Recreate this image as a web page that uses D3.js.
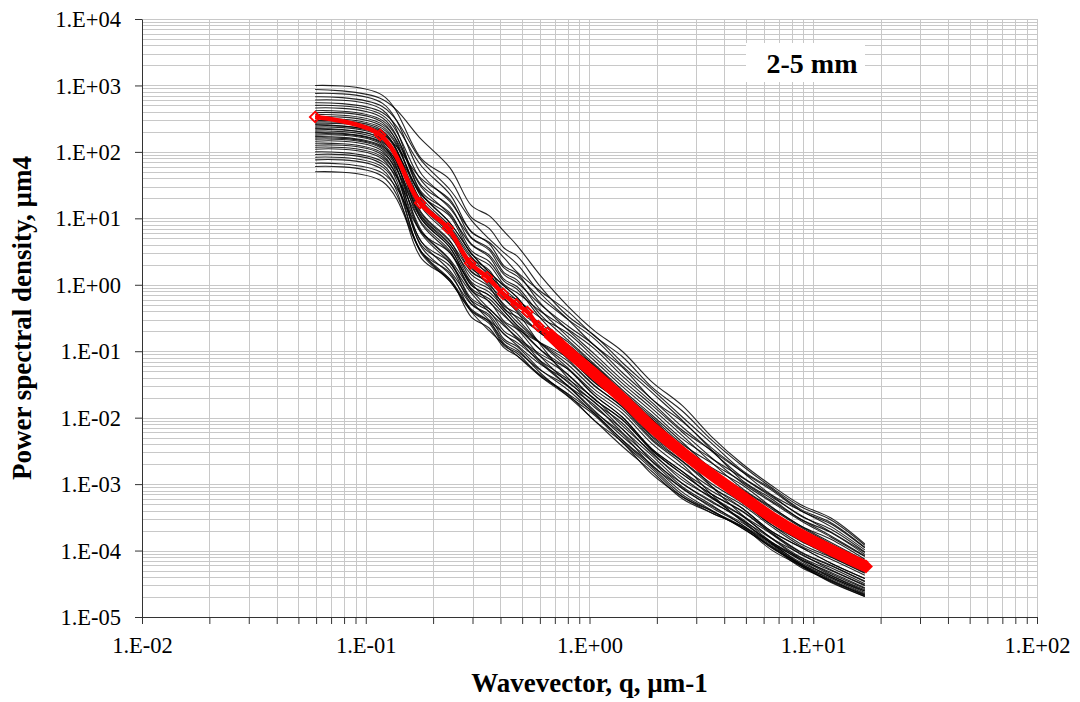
<!DOCTYPE html>
<html lang="en">
<head>
<meta charset="UTF-8">
<title>Power spectral density 2-5 mm</title>
<script src="https://d3js.org/d3.v7.min.js"></script>
<style>
    body { margin: 0; background: #fff; }
    svg { display: block; }
</style>
</head>
<body>
<div id="chart"></div>
<script>
    // axis ticks
    var xTickValues = [1e-2, 1e-1, 1e0, 1e1, 1e2];
    var xTickLabels = ["1.E-02", "1.E-01", "1.E+00", "1.E+01", "1.E+02"];
    var yTickValues = [1e-5, 1e-4, 1e-3, 1e-2, 1e-1, 1e0, 1e1, 1e2, 1e3, 1e4];
    var yTickLabels = ["1.E-05", "1.E-04", "1.E-03", "1.E-02", "1.E-01", "1.E+00", "1.E+01", "1.E+02", "1.E+03", "1.E+04"];

    var xTitle = "Wavevector, q, \u00b5m-1";
    var yTitle = "Power spectral density, \u00b5m4";
    var label = "2-5 mm";

    // wavevector of the single profile samples, um-1
    var q = [0.0594, 0.119, 0.178, 0.238, 0.297, 0.356, 0.416, 0.475, 0.60, 0.80,
             1.05, 1.4, 1.9, 2.6, 3.5, 4.8, 6.5, 8.8, 12, 17];

    // log10 of the PSD (um4) of every single profile, one row per profile
    var profiles = [
        [3.00, 2.85, 1.89, 1.58, 1.01, 0.85, 0.55, 0.43, -0.02, -0.47, -0.76, -1.17, -1.57, -1.99, -2.38, -2.79, -3.07, -3.38, -3.58, -3.95],
        [2.94, 2.79, 2.18, 1.76, 1.19, 1.04, 0.80, 0.59, 0.15, -0.32, -0.69, -1.00, -1.46, -1.82, -2.28, -2.69, -3.02, -3.31, -3.51, -3.90],
        [2.88, 2.73, 1.66, 1.25, 0.80, 0.62, 0.28, 0.17, -0.27, -0.68, -1.04, -1.43, -1.81, -2.22, -2.60, -2.98, -3.27, -3.55, -3.80, -4.09],
        [2.83, 2.68, 1.86, 1.43, 0.97, 0.69, 0.48, 0.31, -0.12, -0.52, -0.91, -1.24, -1.72, -2.06, -2.45, -2.81, -3.16, -3.40, -3.64, -3.99],
        [2.78, 2.63, 1.39, 1.08, 0.51, 0.35, 0.05, -0.07, -0.49, -0.92, -1.21, -1.62, -2.02, -2.44, -2.78, -3.14, -3.42, -3.73, -3.93, -4.20],
        [2.74, 2.59, 1.78, 1.36, 0.79, 0.64, 0.40, 0.19, -0.09, -0.40, -0.77, -1.08, -1.54, -1.90, -2.33, -2.72, -3.05, -3.34, -3.54, -3.92],
        [2.70, 2.55, 1.56, 1.15, 0.70, 0.52, 0.18, 0.07, -0.37, -0.78, -1.14, -1.53, -1.91, -2.32, -2.61, -2.90, -3.19, -3.47, -3.72, -4.03],
        [2.66, 2.51, 1.36, 0.93, 0.47, 0.19, -0.02, -0.19, -0.62, -1.02, -1.41, -1.74, -2.22, -2.56, -2.93, -3.26, -3.61, -3.85, -4.09, -4.33],
        [2.62, 2.47, 1.49, 1.18, 0.61, 0.45, 0.15, 0.03, -0.29, -0.62, -0.91, -1.32, -1.72, -2.14, -2.50, -2.89, -3.17, -3.48, -3.68, -4.02],
        [2.59, 2.44, 1.23, 0.81, 0.24, 0.09, -0.15, -0.36, -0.64, -0.95, -1.32, -1.63, -2.09, -2.45, -2.75, -3.01, -3.34, -3.63, -3.83, -4.13],
        [2.56, 2.41, 1.46, 1.05, 0.60, 0.42, 0.08, -0.03, -0.44, -0.83, -1.19, -1.58, -1.96, -2.37, -2.78, -3.18, -3.47, -3.75, -4.00, -4.23],
        [2.53, 2.38, 1.31, 0.88, 0.42, 0.14, -0.07, -0.24, -0.69, -1.12, -1.51, -1.84, -2.32, -2.66, -3.03, -3.36, -3.71, -3.95, -4.19, -4.42],
        [2.50, 2.35, 1.34, 1.03, 0.46, 0.30, 0.00, -0.12, -0.39, -0.67, -0.96, -1.37, -1.77, -2.19, -2.49, -2.81, -3.09, -3.40, -3.60, -3.96],
        [2.47, 2.32, 1.08, 0.66, 0.09, -0.06, -0.30, -0.51, -0.87, -1.25, -1.62, -1.93, -2.39, -2.75, -3.05, -3.31, -3.64, -3.93, -4.13, -4.37],
        [2.45, 2.30, 1.21, 0.80, 0.35, 0.17, -0.17, -0.28, -0.58, -0.86, -1.22, -1.61, -1.99, -2.40, -2.68, -2.96, -3.25, -3.53, -3.78, -4.08],
        [2.43, 2.28, 1.16, 0.73, 0.27, -0.01, -0.22, -0.39, -0.72, -1.02, -1.41, -1.74, -2.22, -2.56, -3.03, -3.46, -3.81, -4.05, -4.29, -4.52],
        [2.41, 2.26, 1.59, 1.28, 0.71, 0.55, 0.25, 0.13, -0.19, -0.52, -0.81, -1.22, -1.62, -2.04, -2.48, -2.94, -3.22, -3.53, -3.73, -4.06],
        [2.39, 2.24, 0.98, 0.56, -0.01, -0.16, -0.40, -0.61, -0.97, -1.35, -1.72, -2.03, -2.49, -2.85, -3.15, -3.41, -3.74, -4.03, -4.23, -4.47],
        [2.37, 2.22, 1.06, 0.65, 0.20, 0.02, -0.32, -0.43, -0.72, -0.98, -1.34, -1.73, -2.11, -2.52, -2.80, -3.08, -3.37, -3.65, -3.90, -4.16],
        [2.35, 2.20, 1.36, 0.93, 0.47, 0.19, -0.02, -0.19, -0.64, -1.07, -1.46, -1.79, -2.27, -2.61, -2.93, -3.21, -3.56, -3.80, -4.04, -4.28],
        [2.33, 2.18, 0.79, 0.48, -0.09, -0.25, -0.55, -0.67, -1.07, -1.47, -1.76, -2.17, -2.57, -2.99, -3.25, -3.54, -3.82, -4.13, -4.33, -4.56],
        [2.31, 2.16, 1.03, 0.61, 0.04, -0.11, -0.35, -0.56, -0.87, -1.20, -1.57, -1.88, -2.34, -2.70, -3.15, -3.56, -3.89, -4.18, -4.38, -4.61],
        [2.29, 2.14, 1.26, 0.85, 0.40, 0.22, -0.12, -0.23, -0.49, -0.73, -1.09, -1.48, -1.86, -2.27, -2.67, -3.06, -3.35, -3.63, -3.88, -4.15],
        [2.27, 2.12, 0.91, 0.48, 0.02, -0.26, -0.47, -0.64, -0.97, -1.27, -1.66, -1.99, -2.47, -2.81, -3.10, -3.36, -3.71, -3.95, -4.19, -4.42],
        [2.25, 2.10, 0.64, 0.33, -0.24, -0.40, -0.70, -0.82, -1.17, -1.52, -1.81, -2.22, -2.62, -3.04, -3.31, -3.61, -3.89, -4.20, -4.40, -4.63],
        [2.23, 2.08, 1.18, 0.76, 0.19, 0.04, -0.20, -0.41, -0.89, -1.40, -1.77, -2.08, -2.54, -2.90, -3.21, -3.48, -3.81, -4.10, -4.30, -4.53],
        [2.21, 2.06, 1.01, 0.60, 0.15, -0.03, -0.37, -0.48, -0.70, -0.90, -1.26, -1.65, -2.03, -2.44, -2.82, -3.20, -3.49, -3.77, -4.02, -4.25],
        [2.19, 2.04, 0.81, 0.38, -0.08, -0.36, -0.57, -0.74, -1.14, -1.52, -1.91, -2.24, -2.72, -3.06, -3.35, -3.61, -3.96, -4.20, -4.44, -4.66],
        [2.16, 2.01, 0.59, 0.28, -0.29, -0.45, -0.75, -0.87, -1.14, -1.42, -1.71, -2.12, -2.52, -2.94, -3.19, -3.47, -3.75, -4.06, -4.26, -4.50],
        [2.13, 1.98, 0.98, 0.56, -0.01, -0.16, -0.40, -0.61, -0.87, -1.15, -1.52, -1.83, -2.29, -2.65, -2.99, -3.28, -3.61, -3.90, -4.10, -4.34],
        [2.10, 1.95, 0.56, 0.15, -0.30, -0.48, -0.82, -0.93, -1.27, -1.58, -1.94, -2.33, -2.71, -3.12, -3.39, -3.66, -3.95, -4.23, -4.48, -4.69],
        [2.07, 1.92, 0.76, 0.33, -0.13, -0.41, -0.62, -0.79, -1.04, -1.27, -1.66, -1.99, -2.47, -2.81, -3.19, -3.54, -3.89, -4.13, -4.37, -4.59],
        [2.04, 1.89, 0.49, 0.18, -0.39, -0.55, -0.85, -0.97, -1.32, -1.67, -1.96, -2.37, -2.77, -3.19, -3.40, -3.63, -3.91, -4.22, -4.42, -4.65],
        [2.00, 1.85, 0.93, 0.51, -0.06, -0.21, -0.45, -0.66, -0.87, -1.10, -1.47, -1.78, -2.24, -2.60, -2.94, -3.24, -3.57, -3.86, -4.06, -4.31],
        [1.96, 1.81, 0.46, 0.05, -0.40, -0.58, -0.92, -1.03, -1.37, -1.68, -2.04, -2.43, -2.81, -3.22, -3.43, -3.64, -3.93, -4.21, -4.46, -4.67],
        [1.92, 1.77, 0.64, 0.21, -0.25, -0.53, -0.74, -0.91, -1.19, -1.45, -1.84, -2.17, -2.65, -2.99, -3.27, -3.52, -3.87, -4.11, -4.35, -4.57],
        [1.88, 1.73, 0.39, 0.08, -0.49, -0.65, -0.95, -1.07, -1.35, -1.64, -1.93, -2.34, -2.74, -3.16, -3.40, -3.66, -3.94, -4.25, -4.45, -4.68],
        [1.83, 1.68, 0.78, 0.36, -0.21, -0.36, -0.60, -0.81, -1.07, -1.35, -1.72, -2.03, -2.49, -2.85, -3.15, -3.40, -3.73, -4.02, -4.22, -4.46],
        [1.78, 1.63, 0.49, 0.08, -0.37, -0.55, -0.89, -1.00, -1.28, -1.53, -1.89, -2.28, -2.66, -3.07, -3.33, -3.58, -3.87, -4.15, -4.40, -4.61],
        [1.70, 1.55, 0.48, 0.05, -0.41, -0.69, -0.90, -1.07, -1.37, -1.65, -2.04, -2.37, -2.85, -3.19, -3.43, -3.64, -3.99, -4.23, -4.47, -4.69]
    ];

    // averaged PSD (red curve)
    var meanQ = [0.0594, 0.116, 0.175, 0.233, 0.293, 0.349, 0.411, 0.471, 0.528, 0.590, 0.650,
                 0.80, 1.05, 1.4, 1.9, 2.6, 3.5, 4.8, 6.5, 8.8, 12, 17.2];
    var meanPsd = [335, 180, 17, 7.1, 2.1, 1.31, 0.73, 0.51, 0.39, 0.24, 0.19,
                   0.10, 0.046, 0.0195, 0.0072, 0.0030, 0.0014, 0.00066, 0.00032, 0.000174, 0.000102, 0.0000575];
    // points still seen as single hollow diamonds, after that they merge into a band
    var nMarked = 11;

    var width = 1080,
        height = 702;
    var plotLeft = 142, plotRight = 1037, plotTop = 19, plotBottom = 617;
    var serif = "'Liberation Serif', 'Times New Roman', serif";

    var svg = d3.select("#chart")
        .append("svg")
        .attr("width", width)
        .attr("height", height)
        .style("background", "#fff");

    var x = d3.scaleLog().domain([1e-2, 1e2]).range([plotLeft, plotRight]);
    var y = d3.scaleLog().domain([1e-5, 1e4]).range([plotBottom, plotTop]);

    function majorIndex(v, list) {
        for (var i = 0; i < list.length; i++) {
            if (Math.abs(v / list[i] - 1) < 1e-9) return i;
        }
        return -1;
    }

    /* grid, major and minor lines look the same */
    var grid = svg.append("g").attr("stroke", "#c8c8c8").attr("stroke-width", 1);
    grid.selectAll("line.gx")
        .data(x.ticks(20))
        .enter()
        .append("line")
        .attr("class", "gx")
        .attr("x1", function (d) { return Math.round(x(d)) + 0.5; })
        .attr("x2", function (d) { return Math.round(x(d)) + 0.5; })
        .attr("y1", plotTop)
        .attr("y2", plotBottom);
    grid.selectAll("line.gy")
        .data(y.ticks(20))
        .enter()
        .append("line")
        .attr("class", "gy")
        .attr("x1", plotLeft)
        .attr("x2", plotRight)
        .attr("y1", function (d) { return Math.round(y(d)) + 0.5; })
        .attr("y2", function (d) { return Math.round(y(d)) + 0.5; });

    /* axes */
    var xAxis = d3.axisBottom(x)
        .tickValues(x.ticks(20))
        .tickSize(7)
        .tickSizeOuter(0)
        .tickPadding(13)
        .tickFormat(function (d) {
            var i = majorIndex(d, xTickValues);
            return i < 0 ? "" : xTickLabels[i];
        });

    var yAxis = d3.axisLeft(y)
        .tickValues(yTickValues)
        .tickSize(7)
        .tickSizeOuter(0)
        .tickPadding(14)
        .tickFormat(function (d, i) { return yTickLabels[i]; });

    var gx = svg.append("g")
        .attr("transform", "translate(0," + plotBottom + ")")
        .call(xAxis);
    var gy = svg.append("g")
        .attr("transform", "translate(" + plotLeft + ",0)")
        .call(yAxis);

    [gx, gy].forEach(function (g) {
        g.attr("font-family", serif).attr("font-size", 22.5).attr("color", "#333");
        g.selectAll("text").attr("fill", "#000");
    });
    gy.selectAll("text").attr("dy", "0.34em");

    /* single profiles */
    var line = d3.line()
        .x(function (d) { return x(d[0]); })
        .y(function (d) { return y(d[1]); })
        .curve(d3.curveCatmullRom.alpha(0.5));

    svg.append("g")
        .selectAll("path")
        .data(profiles)
        .enter()
        .append("path")
        .attr("d", function (p) {
            return line(q.map(function (qq, i) { return [qq, Math.pow(10, p[i])]; }));
        })
        .attr("fill", "none")
        .attr("stroke", "#000")
        .attr("stroke-opacity", 0.85)
        .attr("stroke-width", 1.1);

    /* averaged curve */
    var mean = meanQ.map(function (qq, i) { return [qq, meanPsd[i]]; });
    var red = svg.append("g");

    red.append("path")
        .attr("d", line(mean))
        .attr("fill", "none")
        .attr("stroke", "#ff0000")
        .attr("stroke-width", 4.5)
        .attr("stroke-linejoin", "round");

    // markers packed so close at high q that they read as a thick band
    red.append("path")
        .attr("d", line(mean.slice(nMarked - 1)))
        .attr("fill", "none")
        .attr("stroke", "#ff0000")
        .attr("stroke-width", 11.5)
        .attr("stroke-linejoin", "round");

    var diamond = d3.symbol().type(d3.symbolSquare).size(56);
    red.selectAll("path.mk")
        .data(mean.slice(0, nMarked))
        .enter()
        .append("path")
        .attr("class", "mk")
        .attr("d", diamond)
        .attr("transform", function (d) {
            return "translate(" + x(d[0]) + "," + y(d[1]) + ") rotate(45)";
        })
        .attr("fill", "none")
        .attr("stroke", "#ff0000")
        .attr("stroke-width", 1.8);

    var last = mean[mean.length - 1];
    red.append("path")
        .attr("d", d3.symbol().type(d3.symbolSquare).size(98)())
        .attr("transform", "translate(" + x(last[0]) + "," + y(last[1]) + ") rotate(45)")
        .attr("fill", "#ff0000");

    /* titles */
    svg.append("text")
        .attr("x", (plotLeft + plotRight) / 2)
        .attr("y", 692)
        .attr("text-anchor", "middle")
        .attr("font-family", serif)
        .attr("font-weight", "bold")
        .attr("font-size", 27)
        .text(xTitle);

    svg.append("text")
        .attr("transform", "translate(22,318) rotate(-90)")
        .attr("text-anchor", "middle")
        .attr("dy", "0.35em")
        .attr("font-family", serif)
        .attr("font-weight", "bold")
        .attr("font-size", 27)
        .text(yTitle);

    /* size class label */
    svg.append("rect")
        .attr("x", 746)
        .attr("y", 43)
        .attr("width", 119)
        .attr("height", 39)
        .attr("fill", "#fff");

    svg.append("text")
        .attr("x", 812)
        .attr("y", 73)
        .attr("text-anchor", "middle")
        .attr("font-family", serif)
        .attr("font-weight", "bold")
        .attr("font-size", 28)
        .text(label);
</script>
</body>
</html>
